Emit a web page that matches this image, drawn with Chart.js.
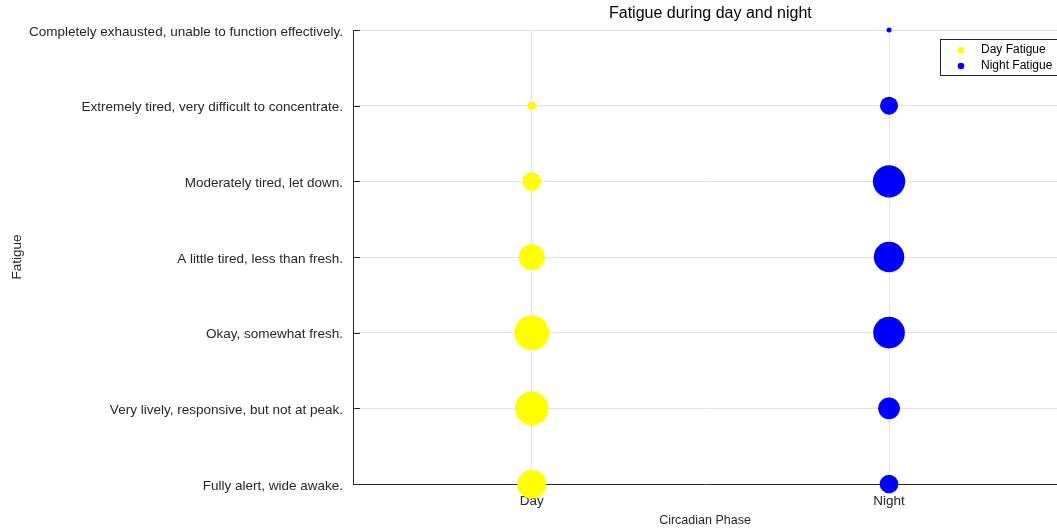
<!DOCTYPE html>
<html>
<head>
<meta charset="utf-8">
<title>Fatigue during day and night</title>
<script src="https://cdn.jsdelivr.net/npm/chart.js@4/dist/chart.umd.min.js"></script>
<style>
  html, body { margin: 0; padding: 0; background: #fff; overflow: hidden; }
  #chart { display: block; }
</style>
</head>
<body>
<canvas id="chart" width="1057" height="530"></canvas>
<script>
// Fatigue scale, level 1 (bottom) to level 7 (top)
const fatigueLevels = [
  'Fully alert, wide awake.',
  'Very lively, responsive, but not at peak.',
  'Okay, somewhat fresh.',
  'A little tired, less than fresh.',
  'Moderately tired, let down.',
  'Extremely tired, very difficult to concentrate.',
  'Completely exhausted, unable to function effectively.'
];
const phases = ['Day', 'Night'];

// Number of responses per fatigue level (1..7)
const dayCounts = [34, 45, 49, 27, 14, 3, 0];
const nightCounts = [14, 19, 40, 37, 42, 13, 1];

const BUBBLE_SCALE = 2.5; // radius = scale * sqrt(count)
const TEXT = '#262626';
const FONT = 'Liberation Sans, Arial, Helvetica, sans-serif';

function toBubbles(counts, phaseIndex) {
  const pts = [];
  counts.forEach((c, i) => {
    if (c > 0) pts.push({ x: phaseIndex + 1, y: i + 1, r: BUBBLE_SCALE * Math.sqrt(c) });
  });
  return pts;
}

// inward tick marks, title and boxed legend
const decorations = {
  id: 'decorations',
  beforeDatasetsDraw(chart) {
    const { ctx, chartArea, scales } = chart;
    ctx.save();
    ctx.strokeStyle = TEXT;
    ctx.lineWidth = 1;
    ctx.beginPath();
    for (let v = 1; v <= fatigueLevels.length; v++) {
      const y = Math.round(scales.y.getPixelForValue(v)) + 0.5;
      ctx.moveTo(chartArea.left, y);
      ctx.lineTo(chartArea.left + 7, y);
    }
    for (let v = 1; v <= phases.length; v++) {
      const x = Math.round(scales.x.getPixelForValue(v)) + 0.5;
      ctx.moveTo(x, chartArea.bottom);
      ctx.lineTo(x, chartArea.bottom - 7);
    }
    ctx.stroke();
    ctx.restore();
  },
  afterDraw(chart) {
    const { ctx, scales } = chart;
    ctx.save();
    // title, centred on the full 0.5 - 2.5 axis span
    ctx.fillStyle = '#000';
    ctx.font = '16px ' + FONT;
    ctx.textAlign = 'center';
    ctx.textBaseline = 'middle';
    ctx.fillText('Fatigue during day and night', scales.x.getPixelForValue(1.5), 14);

    // legend
    const bx = 940.5, by = 39.5, bw = 125, bh = 36;
    ctx.fillStyle = '#fff';
    ctx.fillRect(bx, by, bw, bh);
    ctx.strokeStyle = '#262626';
    ctx.lineWidth = 1;
    ctx.strokeRect(bx, by, bw, bh);
    ctx.font = '12px ' + FONT;
    ctx.textAlign = 'left';
    chart.data.datasets.forEach((ds, i) => {
      const cy = 50 + i * 16;
      ctx.fillStyle = ds.backgroundColor;
      ctx.beginPath();
      ctx.arc(961, cy, 3.3, 0, Math.PI * 2);
      ctx.fill();
      ctx.fillStyle = '#000';
      ctx.fillText(ds.label, 981, cy);
    });
    ctx.restore();
  }
};

const ctx = document.getElementById('chart').getContext('2d');

new Chart(ctx, {
  type: 'bubble',
  data: {
    datasets: [
      {
        label: 'Day Fatigue',
        data: toBubbles(dayCounts, 0),
        backgroundColor: '#ffff00',
        borderColor: '#ffff00',
        borderWidth: 0,
        clip: false
      },
      {
        label: 'Night Fatigue',
        data: toBubbles(nightCounts, 1),
        backgroundColor: '#0000ff',
        borderColor: '#0000ff',
        borderWidth: 0,
        clip: false
      }
    ]
  },
  options: {
    responsive: false,
    animation: false,
    layout: {
      autoPadding: false, // bubbles may overlap the axes
      padding: { top: 30, right: 0, bottom: 0, left: 0 }
    },
    scales: {
      x: {
        type: 'linear',
        min: 0.5,
        max: 2.47, // axis runs to 2.5, window edge cuts it off
        afterBuildTicks: scale => { scale.ticks = phases.map((p, i) => ({ value: i + 1 })); },
        afterFit: scale => {
          scale.height = 46;
          scale.paddingLeft = 0;
          scale.paddingRight = 0;
        },
        ticks: {
          callback: v => phases[v - 1],
          color: TEXT,
          font: { family: FONT, size: 13.5 },
          padding: 9
        },
        grid: { color: '#e3e3e3', drawTicks: false },
        border: { color: TEXT, width: 1 },
        title: {
          display: true,
          text: 'Circadian Phase',
          color: TEXT,
          font: { family: FONT, size: 12.5 },
          padding: { top: 0, bottom: 2 }
        }
      },
      y: {
        type: 'linear',
        min: 1,
        max: 7,
        afterBuildTicks: scale => { scale.ticks = fatigueLevels.map((l, i) => ({ value: i + 1 })); },
        afterFit: scale => { scale.width = 353; },
        ticks: {
          callback: v => fatigueLevels[v - 1],
          color: TEXT,
          font: { family: FONT, size: 13.5 },
          padding: 10,
          labelOffset: 2
        },
        grid: { color: '#e3e3e3', drawTicks: false },
        border: { color: TEXT, width: 1 },
        title: {
          display: true,
          text: 'Fatigue',
          color: TEXT,
          font: { family: FONT, size: 13.5 },
          padding: { top: 9, bottom: 0 }
        }
      }
    },
    plugins: {
      legend: { display: false },
      tooltip: { enabled: false }
    }
  },
  plugins: [decorations]
});
</script>
</body>
</html>
